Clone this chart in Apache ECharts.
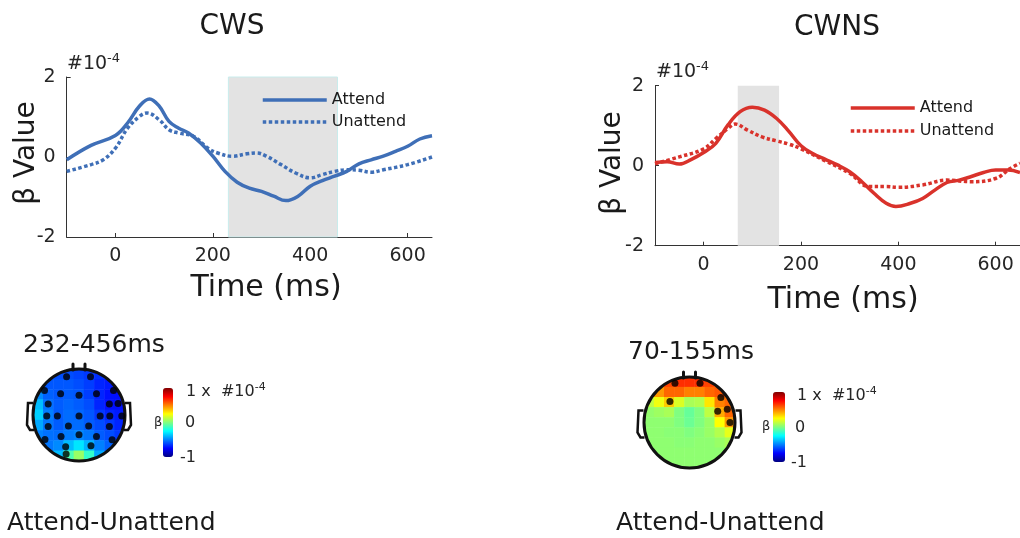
<!DOCTYPE html>
<html>
<head>
<meta charset="utf-8">
<script src="https://cdn.jsdelivr.net/npm/echarts@6.0.0/dist/echarts.min.js"></script>
<style>
  html, body { margin: 0; padding: 0; background: #fff; }
  #main { width: 1020px; height: 538px; }
</style>
</head>
<body>
<div id="main"></div>
<script>
// ---- data (beta values in units of 1e-4) ----
var timeTicks = [0, 200, 400, 600];

var cwsWindow = [232, 456];
var cwnsWindow = [70, 155];

var cwsAttendT = [-100, -50, 0, 25, 50, 70, 90, 110, 130, 150, 175, 200, 225, 250, 275, 300, 325, 350, 375, 400, 425, 450, 475, 500, 525, 550, 575, 600, 625, 650];
var cwsAttendV = [-0.07, 0.29, 0.54, 0.85, 1.28, 1.45, 1.27, 0.89, 0.72, 0.6, 0.35, 0.02, -0.36, -0.63, -0.78, -0.86, -0.98, -1.09, -0.98, -0.73, -0.59, -0.48, -0.36, -0.17, -0.07, 0.02, 0.14, 0.27, 0.45, 0.53];

var cwsUnattendT = [-100, -50, -25, 0, 25, 50, 65, 90, 110, 130, 160, 190, 210, 240, 270, 290, 310, 340, 370, 400, 425, 450, 475, 500, 525, 550, 600, 650];
var cwsUnattendV = [-0.36, -0.19, -0.07, 0.22, 0.72, 1.02, 1.1, 0.93, 0.68, 0.6, 0.52, 0.22, 0.1, 0.02, 0.08, 0.1, 0.02, -0.19, -0.4, -0.52, -0.44, -0.36, -0.32, -0.33, -0.38, -0.32, -0.19, 0.0];

var cwnsAttendT = [-100, -75, -50, -25, 0, 25, 50, 75, 100, 125, 150, 175, 200, 225, 250, 275, 300, 325, 350, 375, 395, 425, 450, 475, 500, 525, 550, 575, 600, 625, 650];
var cwnsAttendV = [0.08, 0.1, 0.04, 0.16, 0.33, 0.56, 1.02, 1.35, 1.46, 1.39, 1.18, 0.86, 0.5, 0.3, 0.16, 0.02, -0.15, -0.4, -0.69, -0.94, -1.02, -0.94, -0.82, -0.61, -0.42, -0.36, -0.27, -0.17, -0.11, -0.11, -0.17];

var cwnsUnattendT = [-100, -50, 0, 25, 50, 65, 90, 120, 150, 175, 200, 250, 300, 340, 375, 400, 450, 500, 550, 600, 630, 650];
var cwnsUnattendV = [0.05, 0.22, 0.42, 0.68, 0.93, 1.04, 0.89, 0.72, 0.62, 0.54, 0.42, 0.12, -0.19, -0.52, -0.52, -0.54, -0.48, -0.36, -0.4, -0.32, -0.07, 0.06];

// topography grids, rows from front (top) to back, columns left to right
var cwsTopo = [
  [-0.6, -0.6, -0.6, -0.6, -0.62, -0.64, -0.66, -0.68, -0.68],
  [-0.55, -0.58, -0.58, -0.58, -0.6, -0.63, -0.68, -0.7, -0.7],
  [-0.48, -0.56, -0.58, -0.57, -0.58, -0.63, -0.68, -0.72, -0.72],
  [-0.38, -0.53, -0.57, -0.55, -0.57, -0.6, -0.68, -0.72, -0.72],
  [-0.34, -0.5, -0.57, -0.54, -0.55, -0.58, -0.64, -0.68, -0.7],
  [-0.42, -0.52, -0.57, -0.54, -0.54, -0.57, -0.6, -0.64, -0.68],
  [-0.5, -0.53, -0.54, -0.51, -0.49, -0.52, -0.57, -0.6, -0.64],
  [-0.52, -0.52, -0.48, -0.38, -0.3, -0.4, -0.5, -0.56, -0.6],
  [-0.52, -0.5, -0.38, -0.1, 0.05, -0.15, -0.42, -0.54, -0.58]
];
var cwnsTopo = [
  [0.45, 0.55, 0.62, 0.66, 0.66, 0.66, 0.62, 0.55, 0.5],
  [0.3, 0.45, 0.55, 0.55, 0.5, 0.5, 0.55, 0.58, 0.55],
  [0.12, 0.22, 0.35, 0.18, 0.08, 0.1, 0.3, 0.5, 0.55],
  [0.04, 0.06, 0.08, 0.0, -0.05, 0.0, 0.12, 0.42, 0.55],
  [0.03, 0.03, 0.03, 0.0, -0.04, 0.0, 0.05, 0.25, 0.45],
  [0.03, 0.03, 0.02, 0.02, 0.0, 0.02, 0.05, 0.1, 0.2],
  [0.03, 0.03, 0.03, 0.02, 0.02, 0.03, 0.03, 0.05, 0.08],
  [0.03, 0.03, 0.03, 0.03, 0.03, 0.03, 0.03, 0.03, 0.05],
  [0.03, 0.03, 0.03, 0.03, 0.03, 0.03, 0.03, 0.03, 0.03]
];

// significant electrodes, head units (x right, y front)
var cwsElectrodes = [
  [-0.27, 0.83], [0.25, 0.83], [-0.75, 0.53], [0.75, 0.53], [-0.4, 0.46], [0, 0.43], [0.38, 0.46],
  [-0.67, 0.24], [0.66, 0.24], [0.85, 0.25], [-0.7, -0.02], [-0.47, -0.02], [0, -0.02], [0.46, -0.02],
  [0.67, -0.02], [0.93, -0.02], [-0.67, -0.25], [-0.23, -0.24], [0.21, -0.24], [0.66, -0.25],
  [-0.74, -0.53], [-0.39, -0.47], [0, -0.43], [0.38, -0.47], [0.72, -0.54], [-0.29, -0.69],
  [0.26, -0.67], [-0.28, -0.85]
];
var cwnsElectrodes = [
  [-0.32, 0.86], [0.23, 0.86], [-0.43, 0.46], [0.69, 0.55], [0.62, 0.25], [0.83, 0.29], [0.89, 0.0]
];

var jet = ['#000080', '#0000ff', '#0080ff', '#00ffff', '#80ff80', '#ffff00', '#ff8000', '#ff0000', '#800000'];

var blue = '#3f6fb7';
var red = '#d9322b';
var dots = [3.5, 2.5];
var FONT = 'DejaVu Sans';

function pairs(t, v) {
  var out = [];
  for (var i = 0; i < t.length; i++) out.push([t[i], v[i]]);
  return out;
}
function cells(grid) {
  var out = [];
  for (var r = 0; r < grid.length; r++)
    for (var c = 0; c < grid[r].length; c++) out.push([c, r, grid[r][c]]);
  return out;
}
var idx = ['0', '1', '2', '3', '4', '5', '6', '7', '8'];

function timeAxis(g) {
  return {
    type: 'value', gridIndex: g, min: -100, max: 650,
    axisLine: { onZero: false, lineStyle: { color: '#333', width: 1 } },
    axisTick: { inside: true, length: 4, customValues: timeTicks, lineStyle: { color: '#333' } },
    axisLabel: { customValues: timeTicks, margin: 10, color: '#262626', fontSize: 19, fontFamily: FONT },
    splitLine: { show: false }
  };
}
function betaAxis(g) {
  return {
    type: 'value', gridIndex: g, min: -2, max: 2, interval: 2,
    axisLine: { show: true, onZero: false, lineStyle: { color: '#333', width: 1 } },
    axisTick: { show: true, inside: true, length: 4, lineStyle: { color: '#333' } },
    axisLabel: { margin: 11, color: '#262626', fontSize: 19, fontFamily: FONT },
    splitLine: { show: false }
  };
}
function hiddenCat(g) {
  return { type: 'category', gridIndex: g, data: idx, show: false };
}
function hiddenCatY(g) {
  return { type: 'category', gridIndex: g, data: idx, inverse: true, show: false };
}
function hiddenVal(g) {
  return { type: 'value', gridIndex: g, min: -1, max: 1, show: false };
}

function txt(x, y, text, size, opt) {
  opt = opt || {};
  return {
    type: 'text', x: x, y: y, z: 150,
    style: {
      text: text, fontSize: size, fontFamily: FONT, fill: opt.fill || '#1a1a1a',
      textAlign: opt.align || 'left', textVerticalAlign: 'middle'
    },
    rotation: opt.rotation || 0
  };
}
function sci(x, y, size, prefix) {
  return {
    type: 'text', x: x, y: y, z: 150,
    style: {
      text: '{a|' + prefix + '#10}{b|-4}', fontFamily: FONT, textVerticalAlign: 'middle',
      rich: {
        a: { fontSize: size, fontFamily: FONT, fill: '#262626' },
        b: { fontSize: Math.round(size * 0.7), fontFamily: FONT, fill: '#262626', verticalAlign: 'top', padding: [0, 0, Math.round(size * 0.55), 0] }
      }
    }
  };
}
function head(cx, cy, r) {
  var k = '#111';
  return [
    // white ring hides the square corners of the heatmap
    { type: 'circle', z: 100, shape: { cx: cx, cy: cy, r: r + 12 }, style: { fill: null, stroke: '#fff', lineWidth: 23 } },
    { type: 'circle', z: 110, shape: { cx: cx, cy: cy, r: r }, style: { fill: null, stroke: k, lineWidth: 3 } },
    { type: 'polyline', z: 110, shape: { points: [[cx - 46, cy - 12], [cx - 51, cy - 12], [cx - 52, cy + 10], [cx - 49, cy + 15], [cx - 45, cy + 15]] }, style: { fill: null, stroke: k, lineWidth: 2.5 } },
    { type: 'polyline', z: 110, shape: { points: [[cx + 46, cy - 12], [cx + 51, cy - 12], [cx + 52, cy + 10], [cx + 49, cy + 15], [cx + 45, cy + 15]] }, style: { fill: null, stroke: k, lineWidth: 2.5 } },
    { type: 'line', z: 110, shape: { x1: cx - 6, y1: cy - r + 1, x2: cx - 6, y2: cy - r - 5 }, style: { stroke: k, lineWidth: 3, lineCap: 'round' } },
    { type: 'line', z: 110, shape: { x1: cx + 6, y1: cy - r + 1, x2: cx + 6, y2: cy - r - 5 }, style: { stroke: k, lineWidth: 3, lineCap: 'round' } }
  ];
}

var myChart = echarts.init(document.getElementById('main'));

var graphics = [
  txt(232, 27, 'CWS', 28, { align: 'center' }),
  txt(837, 28, 'CWNS', 28, { align: 'center' }),
  txt(266, 288, 'Time (ms)', 30, { align: 'center' }),
  txt(843, 300, 'Time (ms)', 30, { align: 'center' }),
  txt(27, 153, 'β Value', 28, { align: 'center', rotation: Math.PI / 2 }),
  txt(613, 163, 'β Value', 28, { align: 'center', rotation: Math.PI / 2 }),
  sci(67, 64, 19, ''),
  sci(656, 72, 19, ''),
  txt(23, 345, '232-456ms', 25),
  txt(628, 352, '70-155ms', 25),
  txt(7, 523, 'Attend-Unattend', 25),
  txt(616, 523, 'Attend-Unattend', 25),
  sci(186, 392, 16, '1 x  '),
  txt(185, 423, '0', 16, { fill: '#262626' }),
  txt(180, 458, '-1', 16, { fill: '#262626' }),
  txt(154, 423, 'β', 13, { fill: '#262626' }),
  sci(797, 396, 16, '1 x  '),
  txt(795, 428, '0', 16, { fill: '#262626' }),
  txt(791, 463, '-1', 16, { fill: '#262626' }),
  txt(762, 427, 'β', 13, { fill: '#262626' })
].concat(head(79, 415, 46)).concat(head(689.5, 422.5, 45.5));

function legendItem(name, color, dashed) {
  return {
    name: name,
    itemStyle: { opacity: 0 },
    lineStyle: { color: color, width: 3.5, type: dashed ? dots : 'solid' }
  };
}

var option = {
  animation: false,
  backgroundColor: '#fff',
  textStyle: { fontFamily: FONT },
  grid: [
    { left: 66.7, top: 77, width: 365.3, height: 160 },
    { left: 655, top: 85.7, width: 365, height: 160 },
    { left: 33, top: 369, width: 92, height: 92 },
    { left: 33, top: 369, width: 92, height: 92 },
    { left: 644, top: 377, width: 91, height: 91 },
    { left: 644, top: 377, width: 91, height: 91 }
  ],
  xAxis: [timeAxis(0), timeAxis(1), hiddenCat(2), hiddenVal(3), hiddenCat(4), hiddenVal(5)],
  yAxis: [betaAxis(0), betaAxis(1), hiddenCatY(2), hiddenVal(3), hiddenCatY(4), hiddenVal(5)],
  legend: [
    {
      left: 261, top: 92, orient: 'vertical', padding: 0, itemGap: 6,
      itemWidth: 64, itemHeight: 14,
      textStyle: { fontSize: 16, color: '#1a1a1a', fontFamily: FONT },
      data: [legendItem('Attend', blue, false), legendItem('Unattend', blue, true)]
    },
    {
      left: 849, top: 100, orient: 'vertical', padding: 0, itemGap: 7,
      itemWidth: 64, itemHeight: 14,
      textStyle: { fontSize: 16, color: '#1a1a1a', fontFamily: FONT },
      data: [legendItem('Attend', red, false), legendItem('Unattend', red, true)]
    }
  ],
  visualMap: [
    {
      type: 'continuous', seriesIndex: 4, min: -1, max: 1, inRange: { color: jet },
      left: 163, top: 388, itemWidth: 10, itemHeight: 69, padding: 0,
      calculable: false, hoverLink: false
    },
    {
      type: 'continuous', seriesIndex: 6, min: -1, max: 1, inRange: { color: jet },
      left: 773, top: 392, itemWidth: 12, itemHeight: 70, padding: 0,
      calculable: false, hoverLink: false
    }
  ],
  graphic: graphics,
  series: [
    {
      name: 'Attend', type: 'line', xAxisIndex: 0, yAxisIndex: 0, smooth: 0.4, showSymbol: false, symbol: 'none',
      lineStyle: { color: blue, width: 3.5 }, itemStyle: { color: blue },
      data: pairs(cwsAttendT, cwsAttendV),
      markArea: {
        silent: true,
        itemStyle: { color: '#e3e3e3', borderColor: '#c9ecec', borderWidth: 1 },
        data: [[{ xAxis: cwsWindow[0] }, { xAxis: cwsWindow[1] }]]
      },
      z: 3
    },
    {
      name: 'Unattend', type: 'line', xAxisIndex: 0, yAxisIndex: 0, smooth: 0.4, showSymbol: false, symbol: 'none',
      lineStyle: { color: blue, width: 3.5, type: dots }, itemStyle: { color: blue },
      data: pairs(cwsUnattendT, cwsUnattendV), z: 3
    },
    {
      name: 'Attend', type: 'line', xAxisIndex: 1, yAxisIndex: 1, smooth: 0.4, showSymbol: false, symbol: 'none',
      lineStyle: { color: red, width: 3.5 }, itemStyle: { color: red },
      data: pairs(cwnsAttendT, cwnsAttendV),
      markArea: {
        silent: true,
        itemStyle: { color: '#e3e3e3' },
        data: [[{ xAxis: cwnsWindow[0] }, { xAxis: cwnsWindow[1] }]]
      },
      z: 3
    },
    {
      name: 'Unattend', type: 'line', xAxisIndex: 1, yAxisIndex: 1, smooth: 0.4, showSymbol: false, symbol: 'none',
      lineStyle: { color: red, width: 3.5, type: dots }, itemStyle: { color: red },
      data: pairs(cwnsUnattendT, cwnsUnattendV), z: 3
    },
    {
      name: 'cwsTopo', type: 'heatmap', xAxisIndex: 2, yAxisIndex: 2,
      data: cells(cwsTopo), emphasis: { disabled: true }, z: 2
    },
    {
      name: 'cwsElec', type: 'scatter', xAxisIndex: 3, yAxisIndex: 3,
      symbolSize: 7, itemStyle: { color: '#000' }, data: cwsElectrodes, z: 200, silent: true
    },
    {
      name: 'cwnsTopo', type: 'heatmap', xAxisIndex: 4, yAxisIndex: 4,
      data: cells(cwnsTopo), emphasis: { disabled: true }, z: 2
    },
    {
      name: 'cwnsElec', type: 'scatter', xAxisIndex: 5, yAxisIndex: 5,
      symbolSize: 7, itemStyle: { color: '#000' }, data: cwnsElectrodes, z: 200, silent: true
    }
  ]
};
myChart.setOption(option);
</script>
</body>
</html>
